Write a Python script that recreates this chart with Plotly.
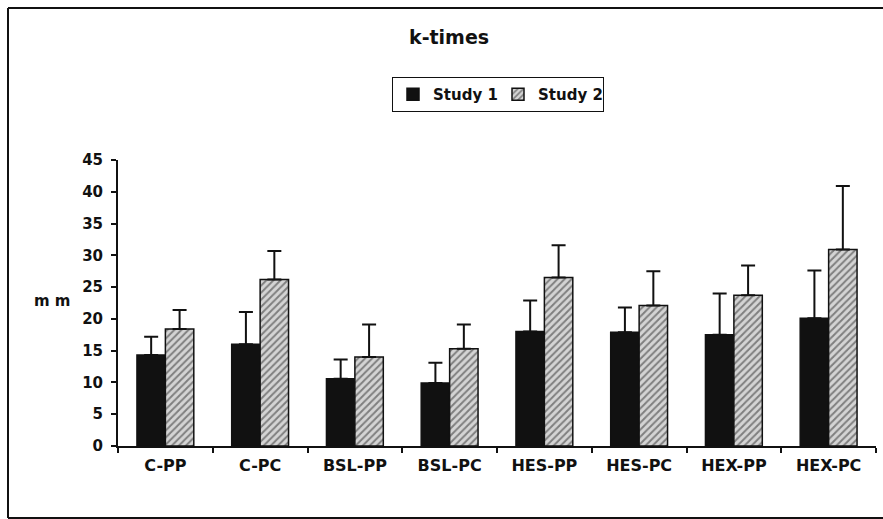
import plotly.graph_objects as go

categories = ["C-PP", "C-PC", "BSL-PP", "BSL-PC", "HES-PP", "HES-PC", "HEX-PP", "HEX-PC"]
study1 = [14.3, 16.0, 10.6, 9.9, 18.0, 17.9, 17.5, 20.1]
study1_err = [2.9, 5.1, 3.0, 3.2, 4.9, 3.9, 6.5, 7.5]
study2 = [18.4, 26.2, 14.0, 15.3, 26.5, 22.1, 23.7, 30.9]
study2_err = [3.0, 4.5, 5.1, 3.8, 5.1, 5.4, 4.7, 10.0]
y_ticks = [0, 5, 10, 15, 20, 25, 30, 35, 40, 45]

W, H = 883, 519
L, R, T, B = 118, 7, 160, 73
pw, ph = W - L - R, H - T - B

def px(x):
    return (x - L) / pw

def py(y):
    return (H - B - y) / ph

font_family = "DejaVu Sans, Liberation Sans, Arial, sans-serif"

fig = go.Figure()
fig.add_trace(go.Bar(
    name="Study 1", x=categories, y=study1,
    marker=dict(color="#111111", line=dict(color="#111111", width=1.5)),
    error_y=dict(type="data", array=study1_err, arrayminus=[0]*len(study1_err),
                 symmetric=False, color="#111111", thickness=2, width=7),
))
fig.add_trace(go.Bar(
    name="Study 2", x=categories, y=study2,
    marker=dict(color="white", line=dict(color="#111111", width=1.5),
                pattern=dict(shape="/", fgcolor="#2a2a2a", bgcolor="#d4d4d4",
                             size=5, solidity=0.4)),
    error_y=dict(type="data", array=study2_err, arrayminus=[0]*len(study2_err),
                 symmetric=False, color="#111111", thickness=2, width=7),
))

frame = dict(color="#111111", width=2)

fig.update_layout(
    width=W, height=H,
    margin=dict(l=L, r=R, t=T, b=B, pad=0),
    paper_bgcolor="white", plot_bgcolor="white",
    barmode="group", bargap=0.4, bargroupgap=0,
    font=dict(family=font_family, size=15, color="#111111", weight="bold"),
    showlegend=True,
    legend=dict(orientation="h", x=px(392), y=py(77), xanchor="left", yanchor="top",
                bordercolor="#111111", borderwidth=1, bgcolor="white",
                font=dict(size=15, weight="bold"), itemwidth=30,
                entrywidth=60, entrywidthmode="pixels",
                tracegroupgap=0),
    xaxis=dict(showline=True, linecolor="#111111", linewidth=2,
               ticks="outside", ticklen=5, tickwidth=1.5, tickcolor="#111111",
               tickson="boundaries", showgrid=False, zeroline=False,
               ticklabelstandoff=4,
               tickfont=dict(size=16, weight="bold")),
    yaxis=dict(range=[0, 45], tickvals=y_ticks, showline=True, linecolor="#111111",
               linewidth=2, ticks="outside", ticklen=5, tickwidth=1.5,
               tickcolor="#111111", showgrid=False, zeroline=False,
               ticklabelstandoff=5,
               tickfont=dict(size=15, weight="bold")),
    annotations=[
        dict(text="k-times", x=px(449), y=py(37), xref="paper", yref="paper",
             xanchor="center", yanchor="middle",
             showarrow=False, font=dict(size=19, weight="bold")),
        dict(text="m m", x=px(52), y=py(301), xref="paper", yref="paper",
             xanchor="center", yanchor="middle",
             showarrow=False, font=dict(size=15, weight="bold")),
    ],
    shapes=[
        dict(type="line", xref="paper", yref="paper",
             x0=px(8), x1=px(900), y0=py(8), y1=py(8), line=frame),
        dict(type="line", xref="paper", yref="paper",
             x0=px(8), x1=px(900), y0=py(518), y1=py(518), line=frame),
        dict(type="line", xref="paper", yref="paper",
             x0=px(8), x1=px(8), y0=py(8), y1=py(518), line=frame),
    ],
)

fig.write_html("out.html", config={"displayModeBar": False},
               post_script="document.body.style.margin='0px';")
